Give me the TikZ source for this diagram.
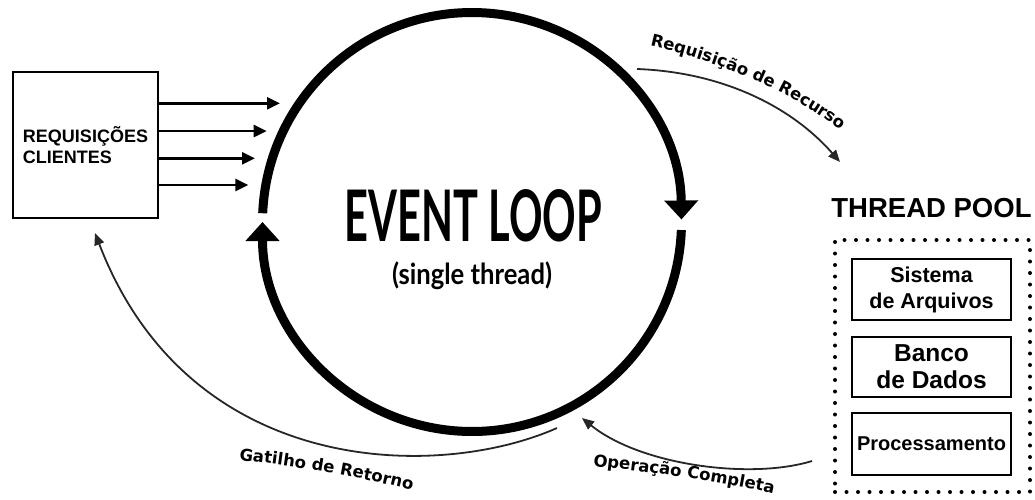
\documentclass[tikz,border=0pt]{standalone}
\usepackage{graphicx}
\usepackage{fontspec}
\setmainfont{Liberation Sans}
\newfontfamily\labelfont{DejaVu Sans}
\newfontfamily\loopfont{Lato}
\usetikzlibrary{arrows.meta,decorations.text}

\begin{document}
\begin{tikzpicture}[x=1pt,y=1pt,
  loopline/.style={line width=9pt, -{Triangle[width=33pt,length=19pt]}},
  feed/.style={line width=2.6pt, -{Triangle[width=12pt,length=13pt]}},
  flow/.style={line width=1.8pt, draw=black!85, -{Triangle[width=10pt,length=12pt]}},
  reqbox/.style={draw, line width=1.6pt, minimum width=145pt, minimum height=146pt,
    align=left, inner sep=0pt, font=\bfseries\fontsize{18}{20.5}\selectfont},
  worker/.style={draw, line width=2pt, minimum width=159pt, inner sep=0pt, align=center},
  curvedlabel/.style={decorate, decoration={text along path,
    text format delimiters={[}{]},
    text={[\labelfont\bfseries\fontsize{16.5}{16.5}\selectfont]#1}}},
]
\useasboundingbox (0,0) rectangle (1035,-499);

% client requests
\node[reqbox] (req) at (85.5,-145) {REQUISIÇÕES\\CLIENTES};
\coordinate (f1) at (280,-103.3);
\coordinate (f2) at (266.7,-131);
\coordinate (f3) at (255,-158.3);
\coordinate (f4) at (248.3,-185);
\foreach \f in {f1,f2,f3,f4}
  \draw[feed] (req.east |- \f) -- (\f);

% the loop itself
\coordinate (loopC) at (472,-222);
\draw[loopline] ([shift={(177.6:209.5)}]loopC) arc[start angle=177.6, end angle=0.7, radius=209.5];
\draw[loopline] ([shift={(-2.2:209.5)}]loopC) arc[start angle=-2.2, end angle=-180, radius=209.5];

\node[anchor=base, inner sep=0pt] (title) at (473.3,-241.7)
  {\resizebox{257pt}{52pt}{\loopfont\bfseries EVENT LOOP}};
\node[inner sep=0pt] (sub) at (472,-276)
  {\resizebox*{160pt}{28pt}{\loopfont\bfseries (single thread)}};

% thread pool
\node[font=\bfseries\fontsize{27.5}{27.5}\selectfont, anchor=base, inner sep=0pt] (pooltitle)
  at (931.5,-217.5) {THREAD POOL};
\node[draw, dash pattern=on 0pt off 11.5pt, line cap=round, line width=4pt,
  minimum width=195pt, minimum height=252pt, inner sep=0pt] (pool) at (932.5,-366) {};
\node[worker, minimum height=61pt, font=\bfseries\fontsize{21.5}{26}\selectfont] (fs)
  at (931.5,-289.5) {Sistema\\de Arquivos};
\node[worker, minimum height=60pt, font=\bfseries\fontsize{24.5}{27}\selectfont] (db)
  at (931.5,-367) {Banco\\de Dados};
\node[worker, minimum height=62pt, font=\bfseries\fontsize{20}{24}\selectfont] (proc)
  at (931.5,-444) {Processamento};

% flows between loop, pool and clients
\coordinate (rqS) at (637,-69);
\coordinate (rqE) at (840,-162);
\draw[flow] (rqS) .. controls (720,-72) and (790,-105) .. (rqE);
\coordinate (gtS) at (557,-428);
\coordinate (gtE) at (95,-233);
\draw[flow] (gtS) .. controls (440,-480) and (190,-480) .. (gtE);
\coordinate (opS) at (812,-461);
\coordinate (opE) at (582,-418);
\draw[flow] (opS) .. controls (750,-480) and (640,-465) .. (opE);

% labels along the flows
\path[curvedlabel={Requisição de Recurso}] (650,-46) .. controls (720,-62) and (790,-90) .. (852,-138);
\path[curvedlabel={Gatilho de Retorno}] (239,-460) .. controls (300,-467) and (360,-476) .. (425,-494);
\path[curvedlabel={Operação Completa}] (593,-466) .. controls (650,-472) and (720,-481) .. (790,-497);
\end{tikzpicture}
\end{document}
